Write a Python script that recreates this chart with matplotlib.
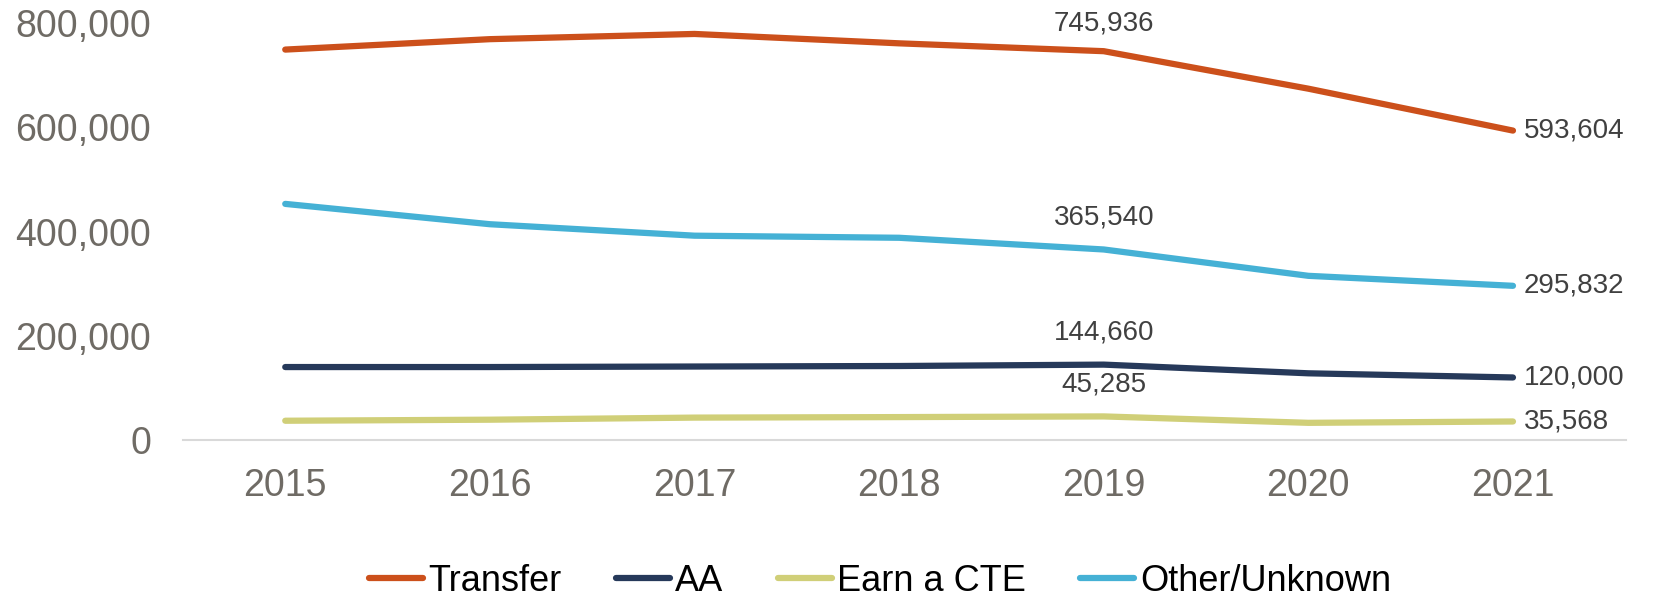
import matplotlib
matplotlib.use("Agg")
import matplotlib.pyplot as plt
from matplotlib.ticker import FuncFormatter

years = ["2015", "2016", "2017", "2018", "2019", "2020", "2021"]
transfer = [749000, 769000, 779000, 761000, 745936, 674000, 593604]
aa = [140000, 140000, 141000, 142000, 144660, 128000, 120000]
cte = [37000, 39000, 43000, 44000, 45285, 33000, 35568]
other = [453000, 414000, 392000, 388000, 365540, 315000, 295832]

series = [
    ("Transfer", transfer, "#CC501B"),
    ("AA", aa, "#26395A"),
    ("Earn a CTE", cte, "#D0CF78"),
    ("Other/Unknown", other, "#45B1D5"),
]
TICK = "#6F6B65"
LABEL = "#404040"

plt.rcParams["font.family"] = ["Liberation Sans", "DejaVu Sans"]

fig = plt.figure(figsize=(16.57, 5.99), dpi=100)
ax = fig.add_axes([0.1104, 0.2654, 0.8706, 0.6962])

x = list(range(len(years)))
handles = []
for name, vals, color in series:
    (ln,) = ax.plot(x, vals, color=color, linewidth=4.5, solid_capstyle="round",
                    label=name)
    handles.append(ln)
    # labels at 2019 (above) and 2021 (right)
    off = 20 if name == "Transfer" else 23
    ax.annotate(f"{vals[4]:,.0f}", (4, vals[4]), textcoords="offset points",
                xytext=(0, off), ha="center", va="center", fontsize=20, color=LABEL)
    ax.annotate(f"{vals[6]:,.0f}", (6, vals[6]), textcoords="offset points",
                xytext=(8, 0), ha="left", va="center", fontsize=20, color=LABEL)

ax.set_xlim(-0.5, 6.55)
ax.set_ylim(0, 800000)
ax.set_yticks([0, 200000, 400000, 600000, 800000])
ax.yaxis.set_major_formatter(FuncFormatter(lambda v, _: f"{v:,.0f}"))
ax.set_xticks(x)
ax.set_xticklabels(years)
ax.tick_params(axis="both", length=0, labelsize=27, labelcolor=TICK)
ax.tick_params(axis="x", pad=20)
ax.tick_params(axis="y", pad=23)
for s in ["top", "right", "left"]:
    ax.spines[s].set_visible(False)
ax.spines["bottom"].set_color("#D9D9D9")
ax.spines["bottom"].set_linewidth(1.5)

fig.legend(handles=handles, loc="center", bbox_to_anchor=(0.531, 0.03), ncol=4,
           frameon=False, handlelength=1.5, handletextpad=0.15, columnspacing=1.5,
           prop={"family": ["Liberation Sans Narrow", "Liberation Sans", "DejaVu Sans"],
                 "size": 26})

fig.savefig("out.png", dpi=100, facecolor="white")
